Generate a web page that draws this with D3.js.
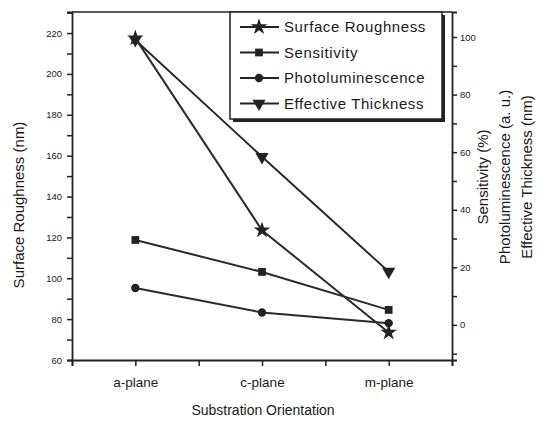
<!DOCTYPE html>
<html><head><meta charset="utf-8">
<script src="https://cdn.jsdelivr.net/npm/d3@7"></script>
<style>body{margin:0;background:#fff}svg{display:block}text{font-family:"Liberation Sans",Arial,sans-serif;fill:#1a1a1a}</style>
</head><body><svg id="c" width="539" height="427"></svg>
<script>
const categories = ["a-plane","c-plane","m-plane"];
const roughness = [217.5, 123.5, 73.5];
const sensitivity = [29.5, 18.4, 5.2];
const photolum = [12.8, 4.3, 0.6];
const thickness = [99, 58.4, 18.5];
const leftTicks = [60,80,100,120,140,160,180,200,220];
const rightTicks = [0,20,40,60,80,100];
const seriesNames = ["Surface Roughness","Sensitivity","Photoluminescence","Effective Thickness"];

const svg = d3.select("#c");
const L=72, R=452, T=12, B=360;
const x = d3.scaleLinear().domain([-0.5,2.5]).range([L,R]);
const yL = d3.scaleLinear().domain([60,230.3]).range([B,T]);
const yR = d3.scaleLinear().domain([-12.2,108.7]).range([B,T]);
const ink="#222";

svg.append("line").attr("x1",L).attr("x2",R).attr("y1",T).attr("y2",T).attr("stroke",ink).attr("stroke-width",1.5);

const gl = svg.append("g").attr("transform",`translate(${L},0)`).call(d3.axisLeft(yL).tickValues(d3.range(60,231,10)).tickSize(5).tickFormat(d=>leftTicks.includes(d)?d:""));
gl.selectAll("text").attr("font-size",9.5).attr("dx","-2");
const gb = svg.append("g").attr("transform",`translate(0,${B})`).call(d3.axisBottom(x).tickValues([-0.5,0,0.5,1,1.5,2,2.5]).tickSize(6).tickFormat(d=>Number.isInteger(d)?categories[d]:""));
gb.selectAll("text").attr("font-size",13.5).attr("dy","1.3em");
const gr = svg.append("g").attr("transform",`translate(${R},0)`).call(d3.axisRight(yR).tickValues(d3.range(-10,109,10)).tickSize(5).tickFormat(d=>rightTicks.includes(d)?d:""));
gr.selectAll("text").attr("font-size",9.5);
[gl,gb,gr].forEach(g=>{g.selectAll("path,line").attr("stroke",ink).attr("stroke-width",1.5);g.select(".domain").attr("stroke-width",1.8);});

svg.append("text").attr("transform",`translate(24,205) rotate(-90)`).attr("text-anchor","middle").attr("font-size",15).text("Surface Roughness (nm)");
svg.append("text").attr("x",263).attr("y",415).attr("text-anchor","middle").attr("font-size",14).text("Substration Orientation");
const rt = ["Sensitivity (%)","Photoluminescence (a. u.)","Effective Thickness (nm)"];
[488,510,532].forEach((xx,i)=>svg.append("text").attr("transform",`translate(${xx},177) rotate(-90)`).attr("text-anchor","middle").attr("font-size",15).text(rt[i]));

const series = [
 {vals:roughness, y:yL, sym:d3.symbolStar, size:85, rot:0},
 {vals:sensitivity, y:yR, sym:d3.symbolSquare, size:60, rot:0},
 {vals:photolum, y:yR, sym:d3.symbolCircle, size:55, rot:0},
 {vals:thickness, y:yR, sym:d3.symbolTriangle, size:75, rot:180}
];
const line = d3.line();
series.forEach(s=>{
  const pts = s.vals.map((v,i)=>[x(i),s.y(v)]);
  svg.append("path").attr("d",line(pts)).attr("fill","none").attr("stroke","#2a2a2a").attr("stroke-width",2);
  pts.forEach(p=>svg.append("path").attr("d",d3.symbol(s.sym,s.size)()).attr("transform",`translate(${p[0]},${p[1]}) rotate(${s.rot})`).attr("fill",ink));
});

const lg = svg.append("g");
lg.append("rect").attr("x",233).attr("y",15).attr("width",212).attr("height",107).attr("fill",ink);
lg.append("rect").attr("x",230).attr("y",12).attr("width",212).attr("height",107).attr("fill","#fff").attr("stroke",ink).attr("stroke-width",1.5);
series.forEach((s,i)=>{
  const yy = 27 + i*25.5;
  lg.append("line").attr("x1",240).attr("x2",279).attr("y1",yy).attr("y2",yy).attr("stroke",ink).attr("stroke-width",2);
  lg.append("path").attr("d",d3.symbol(s.sym,s.size)()).attr("transform",`translate(259,${yy}) rotate(${s.rot})`).attr("fill",ink);
  lg.append("text").attr("x",284).attr("y",yy+5).attr("font-size",15).attr("letter-spacing",0.6).text(seriesNames[i]);
});
</script></body></html>
